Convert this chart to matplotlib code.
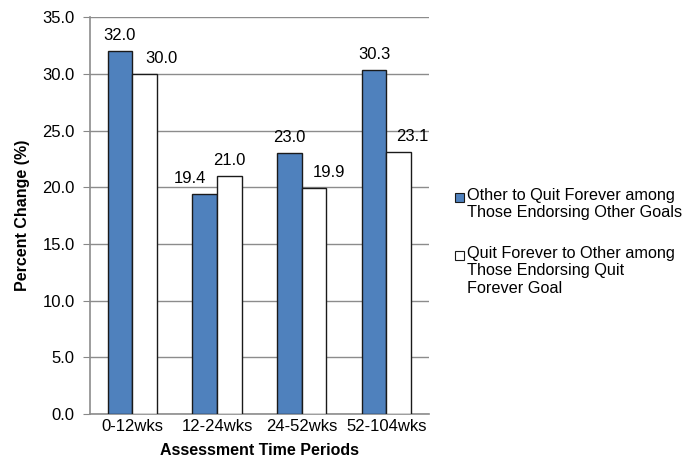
import numpy as np
import matplotlib
matplotlib.use("Agg")
import matplotlib.pyplot as plt
from matplotlib.patches import Rectangle

plt.rcParams["font.family"] = ["Liberation Sans", "DejaVu Sans"]

periods = ["0-12wks", "12-24wks", "24-52wks", "52-104wks"]
other_to_quit = [32.0, 19.4, 23.0, 30.3]
quit_to_other = [30.0, 21.0, 19.9, 23.1]
series_labels = [
    "Other to Quit Forever among\nThose Endorsing Other Goals",
    "Quit Forever to Other among\nThose Endorsing Quit\nForever Goal",
]
yticks = [0, 5, 10, 15, 20, 25, 30, 35]

# sideways nudges (pixels) of the value labels, as in the source chart
nudge_blue = [0, -15, 0, 0]
nudge_white = [17, 0, 15, 14]

BLUE = "#4F81BD"
width = 0.29
FS = 12

fig = plt.figure(figsize=(6.86, 4.65), dpi=100)
ax = fig.add_axes([0.131, 0.11, 0.494, 0.853])

x = np.arange(len(periods))
b1 = ax.bar(x - width / 2, other_to_quit, width, color=BLUE,
            edgecolor="#1a1a1a", linewidth=1.0, zorder=3)
b2 = ax.bar(x + width / 2, quit_to_other, width, color="white",
            edgecolor="#1a1a1a", linewidth=1.0, zorder=3)

for bars, vals, nudges in ((b1, other_to_quit, nudge_blue),
                           (b2, quit_to_other, nudge_white)):
    for bar, v, dx in zip(bars, vals, nudges):
        ax.annotate(f"{v:.1f}", (bar.get_x() + bar.get_width() / 2, v),
                    xytext=(dx * 0.72, 6), textcoords="offset points",
                    ha="center", va="bottom", fontsize=FS)

ax.set_xlim(-0.5, len(periods) - 0.5)
ax.set_ylim(0, 35)
ax.set_yticks(yticks)
ax.set_yticklabels([f"{v:.1f}" for v in yticks], fontsize=FS)
ax.set_xticks(x)
ax.set_xticklabels(periods, fontsize=FS)
ax.tick_params(axis="x", length=0, pad=4)
ax.tick_params(axis="y", length=5, color="#888888", pad=6)
ax.yaxis.grid(True, color="#8c8c8c", linewidth=1.0, zorder=0)
ax.set_axisbelow(True)
for side in ("top", "right"):
    ax.spines[side].set_visible(False)
for side in ("left", "bottom"):
    ax.spines[side].set_color("#8c8c8c")
    ax.spines[side].set_linewidth(1.2)

ax.set_xlabel("Assessment Time Periods", fontsize=11.5, fontweight="bold", labelpad=6)
ax.set_ylabel("Percent Change (%)", fontsize=11.5, fontweight="bold", labelpad=9)

# legend drawn by hand so the swatch sits on the first text line
W, H = 686, 465
legend_rows = [(192, BLUE), (250, "white")]
for (ytop, col), label in zip(legend_rows, series_labels):
    fig.add_artist(Rectangle((455 / W, 1 - (ytop + 10) / H), 9 / W, 9 / H,
                             transform=fig.transFigure, facecolor=col,
                             edgecolor="#1a1a1a", linewidth=0.8))
    fig.text(467 / W, 1 - (ytop - 4) / H, label, fontsize=11.7,
             va="top", ha="left", linespacing=1.2)

fig.savefig("out.png", dpi=100)
